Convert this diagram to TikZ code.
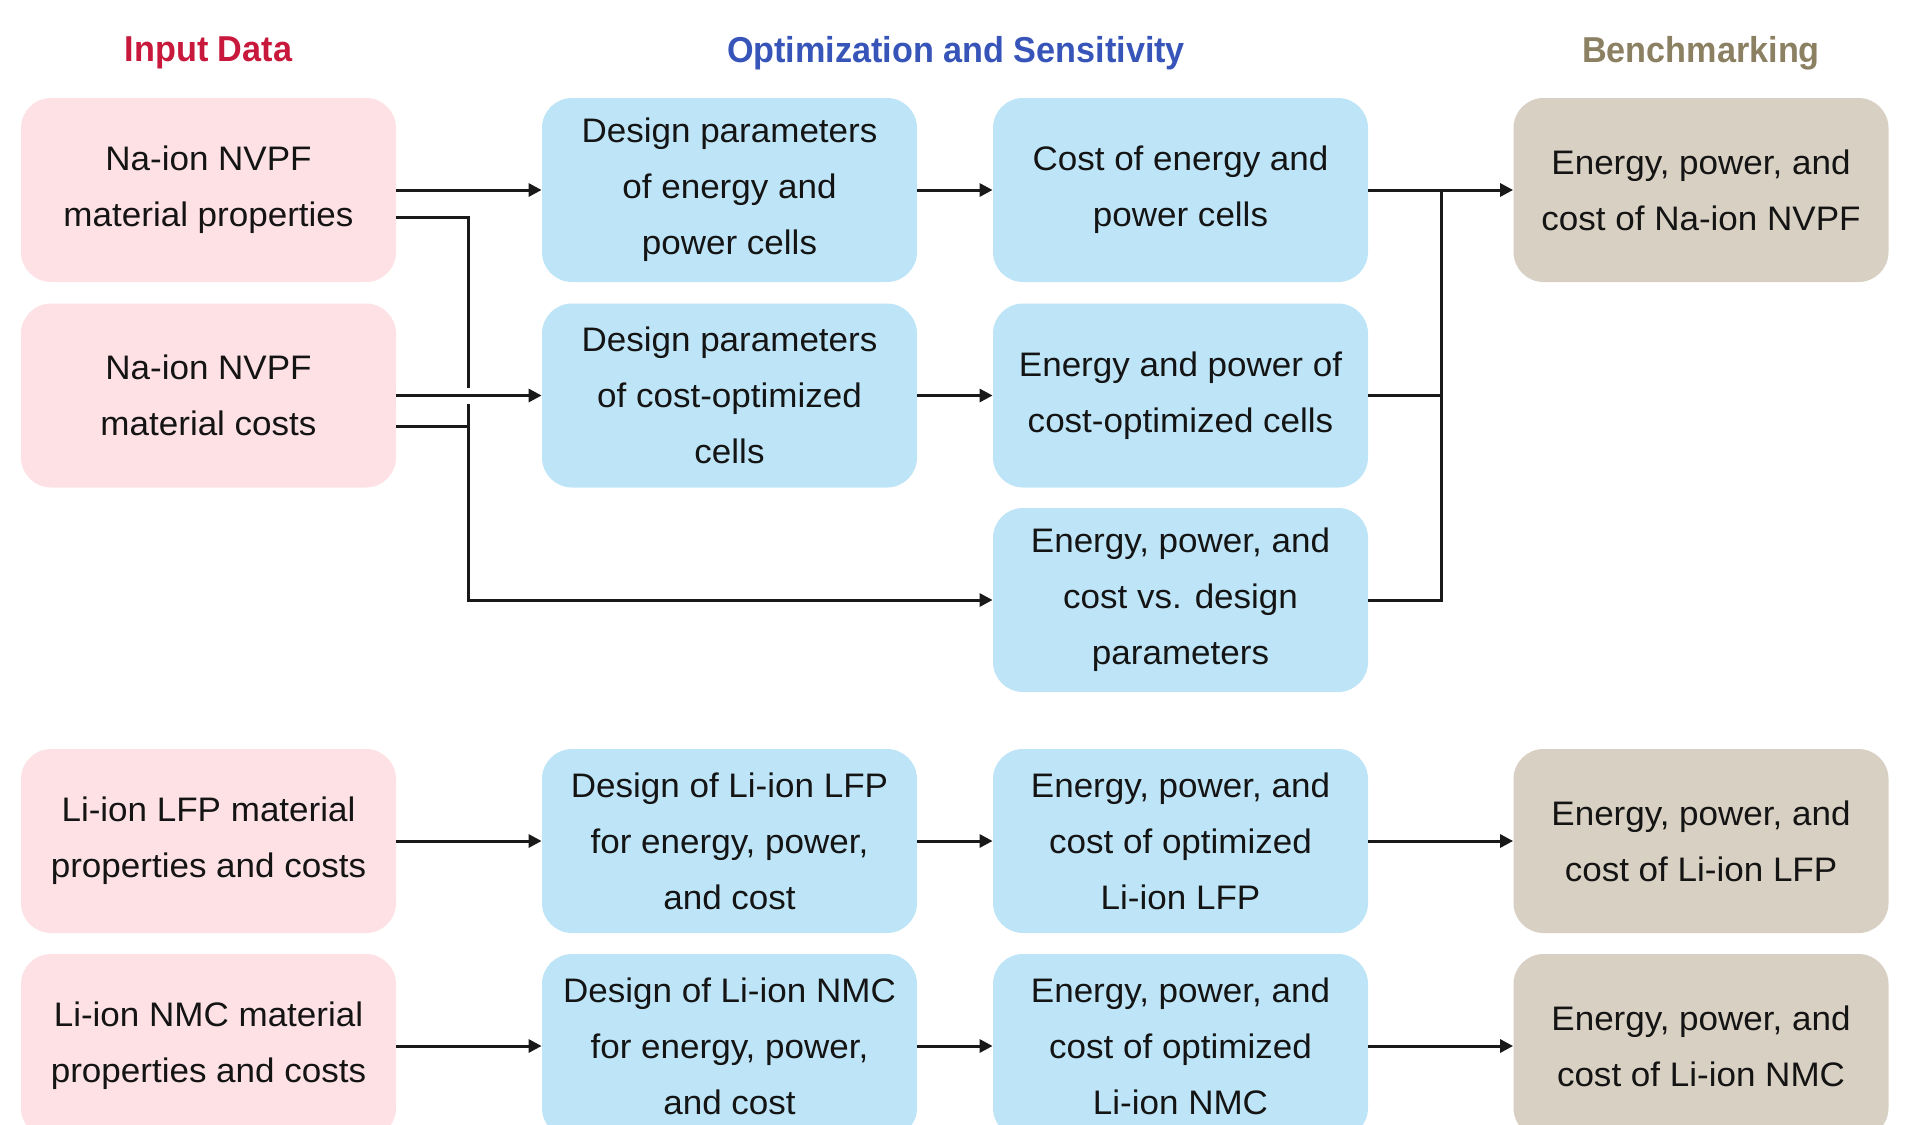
\documentclass[tikz,border=0pt]{standalone}
\usepackage{fontspec}
\setmainfont[FakeStretch=1.03]{Liberation Sans}
\newfontfamily\titlefont[FakeStretch=0.95]{Liberation Sans}
\usetikzlibrary{arrows.meta,calc}
\definecolor{pinkbox}{RGB}{253,225,228}
\definecolor{bluebox}{RGB}{190,229,247}
\definecolor{tanbox}{RGB}{216,208,194}
\definecolor{titlered}{RGB}{200,25,60}
\definecolor{titleblue}{RGB}{55,85,185}
\definecolor{titletan}{RGB}{140,128,98}
\definecolor{txt}{RGB}{20,20,20}
\begin{document}
\begin{tikzpicture}[x=0.5pt,y=-0.5pt,
  box/.style={rounded corners=15pt, minimum width=187.5pt, minimum height=92pt,
    align=center, text=txt, font=\fontsize{17}{28}\selectfont, inner sep=0pt},
  inbox/.style={box, fill=pinkbox},
  optbox/.style={box, fill=bluebox},
  benchbox/.style={box, fill=tanbox},
  title/.style={font=\titlefont\fontsize{18}{20}\selectfont\bfseries},
  conn/.style={line width=1.5pt, draw=black!90},
  arr/.style={conn, -{Triangle[length=6.5pt,width=6.5pt]}},
]
\path[use as bounding box] (0,0) rectangle (1920,1124);
\clip (0,0) rectangle (1920,1124);

% titles
\node[title, text=titlered]  (t1) at (208.5,53) {Input Data};
\node[title, text=titleblue] (t2) at (956,53)   {Optimization and Sensitivity};
\node[title, text=titletan]  (t3) at (1701,53)  {Benchmarking};

% input column
\node[inbox] (nvpfprop) at (208.5,190)   {Na-ion NVPF\\material properties};
\node[inbox] (nvpfcost) at (208.5,395.5) {Na-ion NVPF\\material costs};
\node[inbox] (lfpin)    at (208.5,841)   {Li-ion LFP material\\properties and costs};
\node[inbox] (nmcin)    at (208.5,1046)  {Li-ion NMC material\\properties and costs};

% design column
\node[optbox] (dpe)  at (729.5,190)   {Design parameters\\of energy and\\power cells};
\node[optbox] (dpc)  at (729.5,395.5) {Design parameters\\of cost-optimized\\cells};
\node[optbox] (lfpd) at (729.5,841)   {Design of Li-ion LFP\\for energy, power,\\and cost};
\node[optbox] (nmcd) at (729.5,1046)  {Design of Li-ion NMC\\for energy, power,\\and cost};

% results column
\node[optbox] (cep)   at (1180.5,190)   {Cost of energy and\\power cells};
\node[optbox] (epc)   at (1180.5,395.5) {Energy and power of\\cost-optimized cells};
\node[optbox] (sweep) at (1180.5,600)   {Energy, power, and\\cost vs. design\\parameters};
\node[optbox] (lfpo)  at (1180.5,841)   {Energy, power, and\\cost of optimized\\Li-ion LFP};
\node[optbox] (nmco)  at (1180.5,1046)  {Energy, power, and\\cost of optimized\\Li-ion NMC};

% benchmarking column
\node[benchbox] (bnvpf) at (1701,190)  {Energy, power, and\\cost of Na-ion NVPF};
\node[benchbox] (blfp)  at (1701,841)  {Energy, power, and\\cost of Li-ion LFP};
\node[benchbox] (bnmc)  at (1701,1046) {Energy, power, and\\cost of Li-ion NMC};

% junction coordinates
\coordinate (jl) at (468,0);
\coordinate (jc) at (468,426);
\coordinate (jr) at (1441,0);

% left side connectors
\draw[arr] (nvpfprop) -- (dpe);
\draw[arr] ([yshift=-13.5pt]nvpfprop.east) -| (jl |- sweep) -- (sweep.west);
\draw[conn] ([yshift=-15.25pt]nvpfcost.east) -- (jc);
\draw[arr, preaction={draw=white, line width=8pt, -}] (nvpfcost) -- (dpc);

% middle connectors
\draw[arr] (dpe) -- (cep);
\draw[arr] (dpc) -- (epc);

% right side connectors
\draw[conn] (sweep) -| (jr |- cep);
\draw[conn] (epc) -- (epc -| jr);
\draw[arr] (cep) -- (bnvpf);

% Li-ion rows
\draw[arr] (lfpin) -- (lfpd);
\draw[arr] (lfpd) -- (lfpo);
\draw[arr] (lfpo) -- (blfp);
\draw[arr] (nmcin) -- (nmcd);
\draw[arr] (nmcd) -- (nmco);
\draw[arr] (nmco) -- (bnmc);
\end{tikzpicture}
\end{document}
